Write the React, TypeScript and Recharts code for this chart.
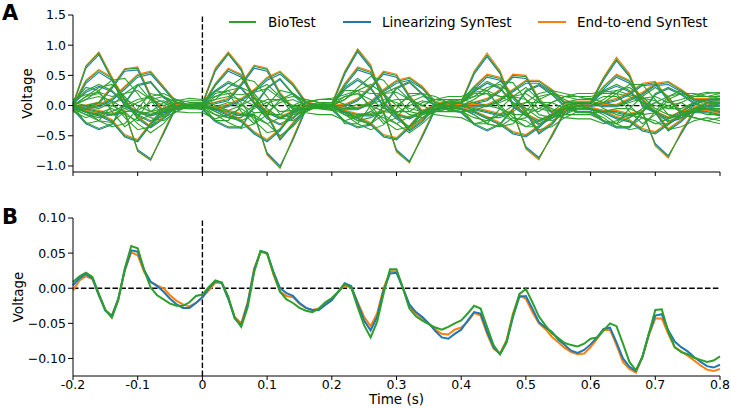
import React from "react";
import { LineChart, Line, XAxis, YAxis, ReferenceLine } from "recharts";

const GREEN = "#2ca02c";
const BLUE = "#1f77b4";
const ORANGE = "#ff7f0e";

// panel A: per-channel traces, sampled every 20 ms
const TIME_A = [
  -0.2, -0.18, -0.16, -0.14, -0.12, -0.1, -0.08, -0.06, -0.04, -0.02,
  0, 0.02, 0.04, 0.06, 0.08, 0.1, 0.12, 0.14, 0.16, 0.18,
  0.2, 0.22, 0.24, 0.26, 0.28, 0.3, 0.32, 0.34, 0.36, 0.38,
  0.4, 0.42, 0.44, 0.46, 0.48, 0.5, 0.52, 0.54, 0.56, 0.58,
  0.6, 0.62, 0.64, 0.66, 0.68, 0.7, 0.72, 0.74, 0.76, 0.78,
  0.8,
];

const G1 = [0.02,0.65,0.87,0.45,0.00,-0.10,-0.15,-0.10,0.00,0.02, 0.03,0.60,0.87,0.60,0.05,-0.10,-0.20,-0.10,0.00,0.02, 0.02,0.55,0.92,0.65,0.05,-0.15,-0.20,-0.10,0.00,0.05, 0.05,0.55,0.84,0.55,0.00,-0.15,-0.25,-0.15,0.00,0.05, 0.05,0.45,0.77,0.50,0.00,-0.10,-0.20,-0.10,0.05,0.10, 0.10];
const G2 = [0.00,-0.05,-0.10,-0.15,-0.10,-0.75,-0.90,-0.45,0.00,0.02, 0.02,-0.05,-0.10,-0.15,-0.15,-0.80,-1.03,-0.55,-0.05,0.00, 0.00,-0.10,-0.15,-0.15,-0.10,-0.75,-0.94,-0.50,-0.05,0.00, 0.00,-0.05,-0.10,-0.15,-0.10,-0.70,-0.88,-0.50,-0.10,0.00, -0.05,-0.10,-0.10,-0.15,-0.10,-0.65,-0.85,-0.45,-0.10,-0.10, -0.15];
const G3 = [0.00,0.40,0.58,0.45,0.10,-0.20,-0.35,-0.20,0.00,0.00, 0.00,0.35,0.60,0.50,0.15,-0.15,-0.55,-0.30,-0.05,0.00, 0.00,0.35,0.62,0.55,0.20,-0.15,-0.40,-0.25,0.00,0.05, 0.05,0.30,0.50,0.45,0.15,-0.10,-0.45,-0.30,-0.05,0.05, 0.05,0.30,0.50,0.40,0.10,-0.10,-0.40,-0.25,-0.05,0.05, 0.05];
const G4 = [0.00,0.00,0.05,0.30,0.60,0.62,0.15,-0.10,-0.05,0.00, 0.00,0.05,0.10,0.35,0.65,0.60,0.20,-0.05,-0.05,0.00, 0.00,0.00,0.10,0.30,0.55,0.50,0.15,-0.10,-0.05,0.00, 0.00,0.05,0.10,0.25,0.50,0.48,0.10,-0.10,-0.05,0.00, 0.00,0.05,0.10,0.20,0.35,0.38,0.10,-0.10,-0.10,0.00, 0.05];
const G5 = [0.00,-0.05,0.00,0.10,0.30,0.50,0.55,0.30,0.05,0.00, 0.00,-0.05,0.00,0.10,0.25,0.45,0.55,0.35,0.05,0.00, 0.00,-0.05,-0.05,0.05,0.25,0.40,0.45,0.30,0.05,0.00, 0.00,0.00,0.00,0.10,0.25,0.40,0.40,0.25,0.05,0.05, 0.05,0.00,0.00,0.10,0.20,0.35,0.38,0.25,0.10,0.10, 0.15];
const G6 = [0.00,-0.10,-0.15,-0.25,-0.50,-0.58,-0.30,-0.05,0.05,0.00, 0.00,-0.05,-0.15,-0.25,-0.45,-0.58,-0.40,-0.10,0.00,0.00, 0.00,-0.10,-0.20,-0.30,-0.50,-0.55,-0.35,-0.10,0.00,0.00, -0.05,-0.10,-0.20,-0.30,-0.45,-0.50,-0.35,-0.15,-0.05,-0.05, -0.05,-0.10,-0.20,-0.25,-0.40,-0.45,-0.30,-0.15,-0.05,-0.05, -0.10];
const G7 = [-0.05,-0.28,-0.38,-0.30,0.05,0.35,0.40,0.15,0.00,0.00, -0.05,-0.25,-0.35,-0.35,0.00,0.30,0.45,0.20,0.00,0.00, -0.05,-0.25,-0.35,-0.30,0.00,0.30,0.40,0.20,0.00,-0.05, -0.10,-0.30,-0.40,-0.30,-0.05,0.25,0.35,0.20,0.00,-0.10, -0.10,-0.25,-0.35,-0.35,-0.10,0.20,0.30,0.20,0.05,-0.05, -0.05];
const G8 = [0.05,0.25,0.35,0.25,0.05,-0.15,-0.25,-0.15,0.00,0.00, 0.05,0.25,0.40,0.30,0.05,-0.20,-0.30,-0.20,0.00,0.05, 0.05,0.30,0.45,0.30,0.00,-0.20,-0.35,-0.20,-0.05,0.00, 0.05,0.25,0.40,0.30,0.05,-0.15,-0.30,-0.20,-0.05,0.00, 0.05,0.25,0.35,0.25,0.05,-0.10,-0.25,-0.20,-0.05,0.00, 0.00];
const G9 = [-0.05,-0.15,-0.25,-0.28,-0.10,-0.30,-0.45,-0.30,-0.05,0.00, 0.00,-0.10,-0.20,-0.25,-0.15,-0.30,-0.50,-0.35,-0.10,0.00, 0.00,-0.10,-0.25,-0.30,-0.15,-0.30,-0.45,-0.30,-0.10,-0.05, -0.05,-0.15,-0.30,-0.35,-0.20,-0.25,-0.40,-0.35,-0.20,-0.10, -0.10,-0.20,-0.35,-0.35,-0.20,-0.25,-0.40,-0.35,-0.25,-0.20, -0.25];
const G10 = [0.05,0.30,0.25,-0.10,-0.35,-0.20,0.10,0.15,0.05,0.00, 0.05,0.25,0.20,-0.10,-0.30,-0.15,0.10,0.20,0.05,0.00, 0.00,0.25,0.25,-0.05,-0.30,-0.20,0.05,0.15,0.10,0.05, 0.10,0.30,0.25,-0.05,-0.25,-0.20,0.10,0.20,0.15,0.10, 0.10,0.25,0.20,-0.10,-0.30,-0.15,0.10,0.20,0.15,0.15, 0.20];
const G11 = [0.00,0.10,0.15,0.08,-0.05,-0.15,-0.10,0.05,0.10,0.05, 0.05,0.10,0.15,0.10,0.00,-0.15,-0.15,0.00,0.10,0.05, 0.05,0.15,0.20,0.10,-0.05,-0.10,-0.10,0.05,0.10,0.10, 0.10,0.15,0.20,0.15,0.05,-0.05,-0.10,0.05,0.15,0.15, 0.15,0.20,0.20,0.15,0.05,0.00,-0.05,0.05,0.15,0.20, 0.22];
const G12 = [-0.05,-0.10,-0.15,-0.10,0.00,0.10,0.15,0.05,-0.05,-0.05, -0.05,-0.15,-0.20,-0.15,0.00,0.10,0.10,0.00,-0.05,-0.05, -0.05,-0.15,-0.20,-0.10,0.05,0.10,0.10,0.00,-0.10,-0.10, -0.10,-0.20,-0.25,-0.15,0.00,0.05,0.05,-0.05,-0.15,-0.15, -0.15,-0.25,-0.30,-0.20,-0.05,0.05,0.00,-0.10,-0.20,-0.25, -0.30];
const G13 = [0.00,-0.30,-0.25,0.00,0.20,0.35,0.10,-0.20,-0.10,0.00, 0.00,-0.25,-0.25,0.00,0.25,0.35,0.15,-0.15,-0.10,0.00, 0.00,-0.30,-0.30,0.00,0.20,0.30,0.10,-0.15,-0.10,-0.05, -0.05,-0.30,-0.30,-0.05,0.15,0.30,0.10,-0.20,-0.15,-0.05, -0.05,-0.25,-0.30,-0.05,0.15,0.30,0.15,-0.15,-0.10,-0.05, -0.10];
const G14 = [0.00,0.15,0.30,0.35,0.15,-0.10,-0.20,-0.25,-0.10,0.00, 0.00,0.15,0.25,0.30,0.20,-0.05,-0.20,-0.25,-0.10,0.00, 0.00,0.10,0.25,0.35,0.20,0.00,-0.15,-0.20,-0.10,0.00, 0.05,0.15,0.30,0.35,0.15,-0.05,-0.20,-0.25,-0.15,0.00, 0.00,0.10,0.25,0.30,0.15,-0.05,-0.15,-0.20,-0.10,0.05, 0.10];
const G15 = [0.00,0.15,0.20,0.05,-0.20,-0.40,-0.35,-0.10,0.05,0.00, 0.00,0.20,0.25,0.05,-0.25,-0.45,-0.40,-0.15,0.00,0.00, 0.00,0.15,0.20,0.00,-0.25,-0.40,-0.35,-0.15,0.00,0.05, 0.05,0.20,0.20,0.00,-0.20,-0.35,-0.35,-0.15,0.00,0.05, 0.05,0.15,0.15,0.00,-0.20,-0.30,-0.30,-0.15,0.00,0.10, 0.10];
const G16 = [-0.05,-0.15,-0.20,-0.15,-0.05,0.05,0.15,0.20,0.10,0.00, 0.00,-0.10,-0.20,-0.20,-0.05,0.05,0.10,0.15,0.10,0.05, 0.00,-0.15,-0.25,-0.20,-0.10,0.00,0.15,0.20,0.15,0.05, 0.05,-0.10,-0.20,-0.20,-0.10,0.05,0.20,0.25,0.20,0.15, 0.10,-0.05,-0.15,-0.20,-0.10,0.05,0.15,0.20,0.20,0.15, 0.15];
const G17 = [0.10,0.18,0.22,0.15,0.20,0.25,0.10,0.00,0.08,0.12, 0.10,0.15,0.20,0.18,0.22,0.28,0.12,-0.02,0.05,0.10, 0.12,0.18,0.25,0.20,0.20,0.22,0.10,0.00,0.10,0.15, 0.15,0.22,0.25,0.15,0.15,0.20,0.05,0.05,0.15,0.20, 0.20,0.22,0.25,0.18,0.12,0.15,0.05,0.10,0.18,0.22, 0.20];
const G18 = [-0.10,-0.20,-0.12,-0.05,-0.15,-0.25,-0.15,-0.05,-0.10,-0.12, -0.12,-0.22,-0.15,-0.05,-0.20,-0.30,-0.20,-0.10,-0.12,-0.15, -0.15,-0.25,-0.18,-0.10,-0.20,-0.30,-0.18,-0.10,-0.15,-0.18, -0.20,-0.30,-0.25,-0.15,-0.25,-0.35,-0.25,-0.15,-0.20,-0.22, -0.22,-0.30,-0.25,-0.15,-0.20,-0.30,-0.22,-0.15,-0.20,-0.25, -0.20];
const G19 = [0.00,0.10,0.25,0.42,0.45,0.20,-0.10,-0.15,-0.05,0.00, 0.00,0.10,0.30,0.45,0.40,0.15,-0.15,-0.20,-0.05,0.00, 0.00,0.10,0.30,0.48,0.42,0.15,-0.10,-0.15,-0.05,0.00, 0.00,0.10,0.25,0.40,0.38,0.10,-0.15,-0.20,-0.10,0.00, 0.00,0.05,0.20,0.35,0.35,0.10,-0.15,-0.20,-0.10,-0.05, 0.00];
const G20 = [0.00,-0.10,-0.25,-0.35,-0.30,-0.05,0.20,0.15,0.05,0.00, 0.00,-0.15,-0.28,-0.38,-0.30,0.00,0.25,0.20,0.05,0.00, 0.00,-0.15,-0.30,-0.40,-0.32,-0.05,0.20,0.20,0.05,0.00, -0.05,-0.15,-0.30,-0.35,-0.30,-0.10,0.15,0.20,0.10,0.00, -0.05,-0.15,-0.30,-0.40,-0.35,-0.10,0.15,0.25,0.10,0.05, 0.00];
const G21 = [0.05,0.00,-0.05,0.05,0.10,0.00,-0.10,-0.05,0.05,0.08, 0.08,0.00,-0.08,0.00,0.12,0.05,-0.10,-0.08,0.05,0.10, 0.10,0.02,-0.05,0.02,0.10,0.05,-0.05,-0.10,0.00,0.08, 0.10,0.05,0.00,0.05,0.15,0.10,-0.05,-0.10,0.05,0.10, 0.12,0.05,0.00,0.05,0.12,0.08,-0.05,-0.05,0.05,0.10, 0.12];
const G22 = [-0.08,-0.05,0.05,0.00,-0.10,-0.08,0.05,0.08,-0.02,-0.05, -0.05,-0.02,0.05,0.02,-0.12,-0.10,0.05,0.10,0.00,-0.05, -0.08,-0.05,0.02,0.00,-0.10,-0.12,0.00,0.08,0.02,-0.08, -0.10,-0.08,0.00,-0.05,-0.15,-0.15,-0.05,0.05,-0.05,-0.10, -0.12,-0.10,-0.05,-0.05,-0.15,-0.12,0.00,0.05,-0.08,-0.15, -0.15];

const B1 = [0.00,0.62,0.84,0.43,-0.02,-0.12,-0.17,-0.12,-0.02,0.00, 0.01,0.57,0.85,0.58,0.03,-0.12,-0.22,-0.12,-0.02,0.00, 0.00,0.52,0.89,0.62,0.03,-0.17,-0.22,-0.12,-0.02,0.03, 0.03,0.52,0.81,0.53,-0.02,-0.17,-0.27,-0.17,-0.02,0.03, 0.03,0.42,0.74,0.48,-0.02,-0.12,-0.22,-0.12,0.03,0.08, 0.08];
const B2 = [-0.02,-0.07,-0.12,-0.16,-0.12,-0.73,-0.88,-0.47,-0.02,0.00, 0.00,-0.07,-0.12,-0.17,-0.16,-0.78,-1.00,-0.57,-0.07,-0.02, -0.02,-0.12,-0.17,-0.17,-0.12,-0.73,-0.92,-0.52,-0.07,-0.02, -0.02,-0.07,-0.12,-0.17,-0.12,-0.68,-0.86,-0.52,-0.12,-0.02, -0.07,-0.12,-0.12,-0.17,-0.12,-0.63,-0.83,-0.47,-0.12,-0.12, -0.17];
const B3 = [-0.02,0.37,0.55,0.42,0.08,-0.22,-0.37,-0.22,-0.02,-0.02, -0.02,0.33,0.57,0.47,0.12,-0.17,-0.57,-0.32,-0.07,-0.02, -0.02,0.32,0.59,0.52,0.17,-0.17,-0.42,-0.27,-0.02,0.03, 0.03,0.27,0.47,0.42,0.12,-0.12,-0.47,-0.32,-0.07,0.03, 0.03,0.27,0.47,0.37,0.08,-0.12,-0.42,-0.27,-0.07,0.03, 0.03];
const B4 = [-0.02,-0.02,0.03,0.28,0.57,0.59,0.13,-0.12,-0.07,-0.02, -0.02,0.03,0.08,0.33,0.62,0.57,0.18,-0.07,-0.07,-0.02, -0.02,-0.02,0.08,0.28,0.52,0.47,0.13,-0.12,-0.07,-0.02, -0.02,0.03,0.08,0.23,0.47,0.45,0.08,-0.12,-0.07,-0.02, -0.02,0.03,0.08,0.18,0.33,0.35,0.08,-0.12,-0.12,-0.02, 0.03];
const B5 = [-0.02,-0.07,-0.02,0.08,0.27,0.47,0.52,0.28,0.03,-0.02, -0.02,-0.07,-0.02,0.08,0.22,0.42,0.52,0.33,0.03,-0.02, -0.02,-0.07,-0.07,0.03,0.23,0.37,0.42,0.28,0.03,-0.02, -0.02,-0.02,-0.02,0.08,0.23,0.37,0.37,0.23,0.03,0.03, 0.03,-0.02,-0.02,0.08,0.18,0.33,0.35,0.23,0.08,0.08, 0.12];
const B6 = [-0.02,-0.12,-0.17,-0.27,-0.52,-0.60,-0.32,-0.07,0.03,-0.02, -0.02,-0.07,-0.17,-0.27,-0.47,-0.60,-0.42,-0.12,-0.02,-0.02, -0.02,-0.12,-0.22,-0.32,-0.52,-0.57,-0.37,-0.12,-0.02,-0.02, -0.07,-0.12,-0.22,-0.32,-0.47,-0.52,-0.37,-0.17,-0.07,-0.07, -0.07,-0.12,-0.22,-0.27,-0.42,-0.47,-0.32,-0.17,-0.07,-0.07, -0.12];
const B7 = [-0.07,-0.30,-0.40,-0.32,0.03,0.33,0.38,0.13,-0.02,-0.02, -0.07,-0.27,-0.37,-0.37,-0.02,0.28,0.43,0.18,-0.02,-0.02, -0.07,-0.27,-0.37,-0.32,-0.02,0.28,0.38,0.18,-0.02,-0.07, -0.12,-0.32,-0.42,-0.32,-0.07,0.23,0.33,0.18,-0.02,-0.12, -0.12,-0.27,-0.37,-0.37,-0.12,0.18,0.28,0.18,0.03,-0.07, -0.07];
const B8 = [0.03,0.22,0.32,0.23,0.03,-0.17,-0.27,-0.17,-0.02,-0.02, 0.03,0.23,0.37,0.28,0.03,-0.22,-0.32,-0.22,-0.02,0.03, 0.03,0.27,0.42,0.28,-0.02,-0.22,-0.37,-0.22,-0.07,-0.02, 0.03,0.23,0.37,0.28,0.03,-0.17,-0.32,-0.22,-0.07,-0.02, 0.03,0.23,0.32,0.23,0.03,-0.12,-0.27,-0.22,-0.07,-0.02, -0.02];

const O1 = [0.03,0.66,0.89,0.48,0.02,-0.09,-0.14,-0.08,0.01,0.03, 0.04,0.62,0.89,0.63,0.06,-0.08,-0.18,-0.09,0.01,0.03, 0.03,0.57,0.94,0.68,0.07,-0.13,-0.19,-0.09,0.02,0.06, 0.06,0.57,0.87,0.58,0.02,-0.13,-0.24,-0.14,0.01,0.06, 0.06,0.47,0.80,0.53,0.02,-0.09,-0.19,-0.09,0.06,0.11, 0.11];
const O2 = [0.01,-0.04,-0.08,-0.13,-0.08,-0.76,-0.91,-0.43,0.02,0.03, 0.03,-0.03,-0.08,-0.13,-0.13,-0.82,-1.04,-0.53,-0.03,0.01, 0.01,-0.08,-0.13,-0.13,-0.08,-0.77,-0.95,-0.48,-0.03,0.01, 0.01,-0.03,-0.08,-0.13,-0.08,-0.72,-0.90,-0.48,-0.08,0.01, -0.03,-0.08,-0.08,-0.13,-0.08,-0.67,-0.87,-0.43,-0.08,-0.08, -0.13];
const O3 = [0.02,0.42,0.60,0.47,0.12,-0.18,-0.34,-0.18,0.02,0.01, 0.02,0.37,0.62,0.52,0.17,-0.13,-0.53,-0.28,-0.03,0.02, 0.02,0.37,0.64,0.57,0.22,-0.13,-0.38,-0.23,0.02,0.07, 0.07,0.32,0.52,0.47,0.17,-0.08,-0.43,-0.28,-0.03,0.07, 0.07,0.32,0.52,0.42,0.12,-0.08,-0.38,-0.23,-0.03,0.07, 0.07];
const O4 = [0.01,0.01,0.06,0.32,0.61,0.64,0.17,-0.08,-0.04,0.01, 0.01,0.06,0.12,0.37,0.67,0.62,0.22,-0.03,-0.04,0.01, 0.01,0.02,0.12,0.32,0.57,0.52,0.17,-0.08,-0.03,0.01, 0.01,0.06,0.12,0.27,0.52,0.50,0.12,-0.08,-0.03,0.01, 0.01,0.06,0.12,0.22,0.37,0.40,0.12,-0.08,-0.08,0.01, 0.06];
const O5 = [0.01,-0.04,0.02,0.12,0.32,0.52,0.57,0.32,0.06,0.01, 0.01,-0.03,0.02,0.12,0.27,0.47,0.57,0.37,0.07,0.01, 0.01,-0.03,-0.03,0.07,0.27,0.42,0.47,0.32,0.07,0.02, 0.02,0.02,0.02,0.12,0.27,0.42,0.42,0.27,0.07,0.07, 0.07,0.02,0.02,0.12,0.22,0.37,0.40,0.27,0.12,0.12, 0.17];
const O6 = [0.01,-0.08,-0.13,-0.23,-0.48,-0.56,-0.28,-0.03,0.06,0.01, 0.01,-0.03,-0.13,-0.23,-0.43,-0.56,-0.38,-0.08,0.01,0.01, 0.01,-0.08,-0.18,-0.28,-0.48,-0.53,-0.33,-0.08,0.01,0.01, -0.03,-0.08,-0.18,-0.28,-0.43,-0.48,-0.33,-0.13,-0.03,-0.03, -0.03,-0.08,-0.18,-0.23,-0.38,-0.43,-0.28,-0.13,-0.03,-0.03, -0.08];

const GREEN_A = [G1, G2, G3, G4, G5, G6, G7, G8, G9, G10, G11, G12, G13, G14, G15, G16, G17, G18, G19, G20, G21, G22];
const BLUE_A = [B1, B2, B3, B4, B5, B6, B7, B8];
const ORANGE_A = [O1, O2, O3, O4, O5, O6];

// panel B: averaged trace, sampled every 10 ms
const TIME_B = [
  -0.2, -0.19, -0.18, -0.17, -0.16, -0.15, -0.14, -0.13, -0.12, -0.11,
  -0.1, -0.09, -0.08, -0.07, -0.06, -0.05, -0.04, -0.03, -0.02, -0.01,
  0, 0.01, 0.02, 0.03, 0.04, 0.05, 0.06, 0.07, 0.08, 0.09,
  0.1, 0.11, 0.12, 0.13, 0.14, 0.15, 0.16, 0.17, 0.18, 0.19,
  0.2, 0.21, 0.22, 0.23, 0.24, 0.25, 0.26, 0.27, 0.28, 0.29,
  0.3, 0.31, 0.32, 0.33, 0.34, 0.35, 0.36, 0.37, 0.38, 0.39,
  0.4, 0.41, 0.42, 0.43, 0.44, 0.45, 0.46, 0.47, 0.48, 0.49,
  0.5, 0.51, 0.52, 0.53, 0.54, 0.55, 0.56, 0.57, 0.58, 0.59,
  0.6, 0.61, 0.62, 0.63, 0.64, 0.65, 0.66, 0.67, 0.68, 0.69,
  0.7, 0.71, 0.72, 0.73, 0.74, 0.75, 0.76, 0.77, 0.78, 0.79,
  0.8,
];

const BIO_B = [
  0.009, 0.017, 0.022, 0.016, -0.008, -0.031, -0.042, -0.017, 0.028, 0.06,
  0.057, 0.026, 0.001, -0.01, -0.016, -0.022, -0.025, -0.025, -0.02, -0.011,
  -0.009, 0.002, 0.011, 0.008, -0.012, -0.042, -0.055, -0.027, 0.023, 0.053,
  0.05, 0.021, -0.005, -0.016, -0.021, -0.028, -0.032, -0.034, -0.029, -0.02,
  -0.014, -0.005, 0.006, 0.001, -0.027, -0.053, -0.07, -0.048, -0.008, 0.027,
  0.027, 0.0, -0.029, -0.04, -0.046, -0.051, -0.056, -0.059, -0.055, -0.05,
  -0.046, -0.036, -0.025, -0.029, -0.055, -0.081, -0.094, -0.077, -0.039, -0.008,
  -0.001, -0.02, -0.04, -0.053, -0.064, -0.071, -0.078, -0.081, -0.083, -0.079,
  -0.072, -0.07, -0.06, -0.05, -0.054, -0.079, -0.105, -0.117, -0.098, -0.065,
  -0.031, -0.03, -0.062, -0.084, -0.091, -0.094, -0.099, -0.102, -0.105, -0.103,
  -0.097,
];

const LIN_B = [
  0.004, 0.014, 0.02, 0.014, -0.01, -0.032, -0.04, -0.015, 0.026, 0.054,
  0.052, 0.026, 0.009, 0.003, -0.005, -0.015, -0.023, -0.028, -0.028, -0.021,
  -0.013, 0.0, 0.01, 0.008, -0.015, -0.043, -0.053, -0.022, 0.026, 0.053,
  0.05, 0.023, 0.0, -0.007, -0.011, -0.021, -0.028, -0.031, -0.031, -0.024,
  -0.017, -0.005, 0.007, 0.003, -0.022, -0.046, -0.06, -0.041, -0.003, 0.021,
  0.022, 0.0, -0.023, -0.034, -0.041, -0.05, -0.061, -0.07, -0.072, -0.065,
  -0.059, -0.046, -0.034, -0.036, -0.062, -0.084, -0.094, -0.077, -0.041, -0.012,
  -0.011, -0.029, -0.048, -0.056, -0.062, -0.073, -0.081, -0.089, -0.092, -0.088,
  -0.08, -0.07, -0.058, -0.056, -0.077, -0.1, -0.112, -0.118, -0.098, -0.065,
  -0.039, -0.037, -0.06, -0.076, -0.084, -0.09, -0.098, -0.105, -0.111, -0.113,
  -0.109,
];

const E2E_B = [
  -0.003, 0.011, 0.017, 0.013, -0.01, -0.031, -0.039, -0.015, 0.025, 0.051,
  0.047, 0.023, 0.009, 0.004, 0.0, -0.01, -0.018, -0.023, -0.026, -0.021,
  -0.013, -0.003, 0.008, 0.007, -0.015, -0.041, -0.05, -0.02, 0.028, 0.052,
  0.049, 0.019, -0.005, -0.011, -0.013, -0.022, -0.028, -0.031, -0.029, -0.022,
  -0.015, -0.005, 0.004, 0.001, -0.02, -0.041, -0.054, -0.036, 0.0, 0.024,
  0.024, 0.0, -0.027, -0.036, -0.043, -0.051, -0.059, -0.065, -0.066, -0.059,
  -0.056, -0.048, -0.035, -0.039, -0.065, -0.086, -0.093, -0.074, -0.036, -0.01,
  -0.015, -0.034, -0.05, -0.058, -0.069, -0.077, -0.085, -0.091, -0.094, -0.093,
  -0.084, -0.072, -0.06, -0.059, -0.081, -0.105, -0.115, -0.12, -0.098, -0.067,
  -0.043, -0.043, -0.065, -0.084, -0.09, -0.096, -0.103, -0.11, -0.116, -0.118,
  -0.115,
];

const X_TICKS = [-0.2, -0.1, 0, 0.1, 0.2, 0.3, 0.4, 0.5, 0.6, 0.7, 0.8];
const Y_TICKS_A = [-1.0, -0.5, 0.0, 0.5, 1.0, 1.5];
const Y_TICKS_B = [-0.1, -0.05, 0.0, 0.05, 0.1];

const dataA = TIME_A.map((t, i) => {
  const row: Record<string, number> = { t };
  GREEN_A.forEach((arr, k) => (row["g" + k] = arr[i]));
  BLUE_A.forEach((arr, k) => (row["b" + k] = arr[i]));
  ORANGE_A.forEach((arr, k) => (row["o" + k] = arr[i]));
  return row;
});

const dataB = TIME_B.map((t, i) => ({
  t,
  bio: BIO_B[i],
  lin: LIN_B[i],
  e2e: E2E_B[i],
}));

const minus = (s: string) => s.replace("-", "\u2212");
const tickStyle = { fill: "#000", fontSize: 12.5 };
const axisStroke = { stroke: "#000", strokeWidth: 1 };
const dash = "5.5 2.4";

export default function App() {
  return (
    <div
      style={{
        position: "absolute",
        left: 0,
        top: 0,
        width: 731,
        height: 408,
        background: "#fff",
        fontFamily: "DejaVu Sans",
      }}
    >
      <div style={{ position: "absolute", left: 0, top: 0 }}>
        <LineChart
          width={731}
          height={180}
          data={dataA}
          margin={{ top: 15, right: 11, bottom: 0, left: 0 }}
        >
          <XAxis
            dataKey="t"
            type="number"
            domain={[-0.2, 0.8]}
            ticks={X_TICKS}
            tickFormatter={() => ""}
            height={8}
            tickSize={4}
            axisLine={axisStroke}
            tickLine={axisStroke}
          />
          <YAxis
            type="number"
            domain={[-1.1, 1.5]}
            ticks={Y_TICKS_A}
            width={73}
            tickSize={5}
            tickMargin={2}
            tick={tickStyle}
            tickFormatter={(v: number) => minus(v.toFixed(1))}
            axisLine={axisStroke}
            tickLine={axisStroke}
          />
          <ReferenceLine y={0} stroke="#000" strokeDasharray={dash} strokeWidth={1.4} />
          <ReferenceLine x={0} stroke="#000" strokeDasharray={dash} strokeWidth={1.4} />
          {BLUE_A.map((_, k) => (
            <Line key={"b" + k} type="linear" dataKey={"b" + k} stroke={BLUE} strokeWidth={1.1} dot={false} isAnimationActive={false} />
          ))}
          {ORANGE_A.map((_, k) => (
            <Line key={"o" + k} type="linear" dataKey={"o" + k} stroke={ORANGE} strokeWidth={1.1} dot={false} isAnimationActive={false} />
          ))}
          {GREEN_A.map((_, k) => (
            <Line key={"g" + k} type="linear" dataKey={"g" + k} stroke={GREEN} strokeWidth={1.1} dot={false} isAnimationActive={false} />
          ))}
        </LineChart>
      </div>

      <div style={{ position: "absolute", left: 0, top: 200 }}>
        <LineChart
          width={731}
          height={208}
          data={dataB}
          margin={{ top: 18, right: 11, bottom: 0, left: 0 }}
        >
          <XAxis
            dataKey="t"
            type="number"
            domain={[-0.2, 0.8]}
            ticks={X_TICKS}
            tickFormatter={(v: number) => String(+v.toFixed(1))}
            height={32}
            tickSize={4}
            tickMargin={0}
            tick={tickStyle}
            axisLine={axisStroke}
            tickLine={axisStroke}
          />
          <YAxis
            type="number"
            domain={[-0.125, 0.1]}
            ticks={Y_TICKS_B}
            width={73}
            tickSize={5}
            tickMargin={2}
            tick={tickStyle}
            tickFormatter={(v: number) => minus(v.toFixed(2))}
            axisLine={axisStroke}
            tickLine={axisStroke}
          />
          <ReferenceLine y={0} stroke="#000" strokeDasharray={dash} strokeWidth={1.4} />
          <ReferenceLine x={0} stroke="#000" strokeDasharray={dash} strokeWidth={1.4} />
          <Line type="linear" dataKey="e2e" stroke={ORANGE} strokeWidth={2} dot={false} isAnimationActive={false} />
          <Line type="linear" dataKey="lin" stroke={BLUE} strokeWidth={2} dot={false} isAnimationActive={false} />
          <Line type="linear" dataKey="bio" stroke={GREEN} strokeWidth={2} dot={false} isAnimationActive={false} />
        </LineChart>
      </div>

      <svg
        width={731}
        height={408}
        style={{ position: "absolute", left: 0, top: 0, pointerEvents: "none" }}
        fontFamily="DejaVu Sans"
      >
        <text x={2} y={20} fontSize={21} fontWeight="bold">A</text>
        <text x={2} y={224} fontSize={21} fontWeight="bold">B</text>
        <text x={27} y={93.5} fontSize={13.5} textAnchor="middle" dominantBaseline="central" transform="rotate(-90 27 93.5)">Voltage</text>
        <text x={18} y={297} fontSize={13.5} textAnchor="middle" dominantBaseline="central" transform="rotate(-90 18 297)">Voltage</text>
        <text x={396.5} y={404} fontSize={13.5} textAnchor="middle">Time (s)</text>
        <line x1={229} x2={256} y1={22} y2={22} stroke={GREEN} strokeWidth={2} />
        <text x={268} y={26.5} fontSize={13.5}>BioTest</text>
        <line x1={343} x2={371} y1={22} y2={22} stroke={BLUE} strokeWidth={2} />
        <text x={382} y={26.5} fontSize={13.5}>Linearizing SynTest</text>
        <line x1={538} x2={566} y1={22} y2={22} stroke={ORANGE} strokeWidth={2} />
        <text x={577} y={26.5} fontSize={13.5}>End-to-end SynTest</text>
      </svg>
    </div>
  );
}
